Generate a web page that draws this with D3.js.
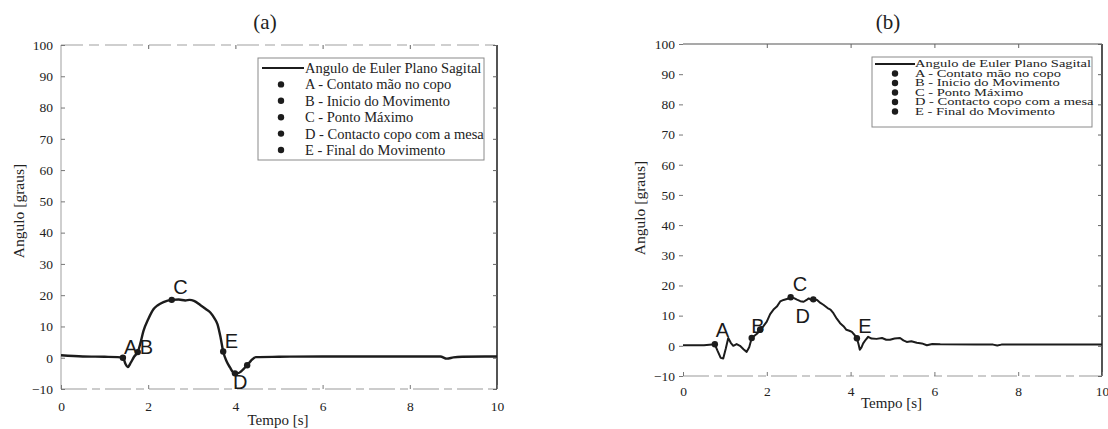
<!DOCTYPE html>
<html>
<head>
<meta charset="utf-8">
<script src="https://cdn.jsdelivr.net/npm/d3@7"></script>
<style>
  html, body { margin: 0; padding: 0; background: #fff; }
  svg { display: block; }
</style>
</head>
<body>
<svg id="chart" width="1108" height="429"></svg>
<script>
// ---- shared axis ticks and legend entries ----
const tickX = [0, 2, 4, 6, 8, 10];
const tickY = [-10, 0, 10, 20, 30, 40, 50, 60, 70, 80, 90, 100];
const lineLegend = "Angulo de Euler Plano Sagital";
const eventLegend = [
  "A - Contato mão no copo",
  "B - Inicio do Movimento",
  "C - Ponto Máximo",
  "D - Contacto copo com a mesa",
  "E - Final do Movimento"
];

// ---- panel (a): sagittal Euler angle over time ----
const timeA  = [0, 0.5, 1.0, 1.3, 1.42, 1.48, 1.53, 1.6, 1.68, 1.76, 1.82, 1.89, 2.0, 2.12, 2.22, 2.35, 2.54, 2.7, 2.85, 2.95, 3.05, 3.2, 3.32, 3.43, 3.52, 3.59, 3.66, 3.72, 3.8, 3.88, 3.95, 4.05, 4.12, 4.18, 4.27, 4.36, 4.47, 5.0, 6.0, 7.0, 8.0, 8.7, 8.85, 9.0, 9.2, 10];
const angleA = [0.8, 0.4, 0.3, 0.2, 0.0, -2.0, -3.0, -1.6, 0.4, 1.8, 4.6, 8.5, 12.3, 15.5, 16.8, 17.8, 18.5, 18.6, 18.3, 18.5, 18.2, 16.8, 15.6, 14.4, 12.6, 10.7, 6.5, 2.0, -1.2, -3.2, -4.7, -5.0, -4.5, -3.7, -2.4, -0.9, 0.2, 0.3, 0.4, 0.4, 0.4, 0.4, -0.3, 0.1, 0.3, 0.4];
const eventTimeA  = [1.42, 1.76, 2.54, 3.72, 3.99, 4.27];
const eventAngleA = [0.0, 1.8, 18.5, 2.0, -5.0, -2.4];
const tagTextA  = ["A", "B", "C", "E", "D"];
const tagTimeA  = [1.6, 1.96, 2.74, 3.91, 4.11];
const tagAngleA = [1.2, 1.2, 20.4, 3.1, -10.0];

// ---- panel (b): sagittal Euler angle over time ----
const timeB  = [0, 0.5, 0.76, 0.82, 0.9, 0.96, 1.02, 1.08, 1.14, 1.2, 1.28, 1.36, 1.45, 1.52, 1.58, 1.64, 1.72, 1.78, 1.84, 1.92, 2.0, 2.08, 2.16, 2.24, 2.32, 2.4, 2.48, 2.57, 2.65, 2.72, 2.8, 2.88, 2.95, 3.0, 3.06, 3.11, 3.2, 3.28, 3.35, 3.45, 3.52, 3.59, 3.67, 3.75, 3.83, 3.9, 3.97, 4.03, 4.1, 4.15, 4.19, 4.22, 4.26, 4.3, 4.36, 4.42, 4.5, 4.62, 4.75, 4.85, 4.94, 5.05, 5.18, 5.26, 5.34, 5.45, 5.58, 5.7, 5.82, 5.95, 6.14, 7.0, 7.4, 7.5, 7.6, 8.0, 10];
const angleB = [0.2, 0.2, 0.5, -1.5, -4.0, -4.2, -1.0, 2.6, 1.0, 0.0, 0.6, 0.0, -1.2, -2.0, -0.5, 2.6, 3.5, 4.2, 5.3, 6.5, 8.0, 10.5, 12.0, 13.0, 14.7, 15.2, 15.5, 16.1, 15.8, 15.3, 14.8, 14.6, 15.2, 15.7, 15.2, 15.4, 15.2, 14.2, 13.6, 12.5, 12.0, 10.8, 9.0, 7.5, 6.5, 5.3, 5.0, 4.6, 3.5, 2.5, 0.5, -1.3, -0.5, 0.8, 2.0, 3.0, 2.4, 2.3, 2.6, 2.0, 2.0, 2.4, 2.6, 1.8, 1.3, 1.5, 1.0, 0.8, 0.2, 0.6, 0.5, 0.4, 0.4, 0.1, 0.4, 0.4, 0.4];
const eventTimeB  = [0.76, 1.64, 1.84, 2.57, 3.11, 4.15];
const eventAngleB = [0.5, 2.6, 5.3, 16.1, 15.4, 2.5];
const tagTextB  = ["A", "B", "C", "D", "E"];
const tagTimeB  = [0.94, 1.79, 2.79, 2.86, 4.34];
const tagAngleB = [3.0, 4.3, 18.0, 7.6, 4.3];

const svg = d3.select("#chart");
const ink = "#1c1c1c";
const serif = "'Liberation Serif', 'Times New Roman', Times, serif";
const sans = "'Liberation Sans', Arial, Helvetica, sans-serif";

function drawPanel(p) {
  const x = d3.scaleLinear().domain([0, 10]).range([p.left, p.right]);
  const y = d3.scaleLinear().domain([-10, 100]).range([p.bottom, p.top]);
  const g = svg.append("g");

  // panel title
  g.append("text").attr("x", p.titleX).attr("y", 29).attr("text-anchor", "middle")
    .style("font-family", serif).style("font-size", "21px").style("fill", "#222").text(p.title);

  // frame
  const frame = [
    { x1: p.left, y1: p.top, x2: p.left, y2: p.bottom, c: p.leftColor, d: null, w: 1.1 },
    { x1: p.left, y1: p.top, x2: p.right, y2: p.top, c: p.topColor, d: p.topDash, w: 1.1 },
    { x1: p.right, y1: p.top, x2: p.right, y2: p.bottom, c: "#2a2a2a", d: null, w: 1.6 },
    { x1: p.left, y1: p.bottom, x2: p.right, y2: p.bottom, c: "#9a9a9a", d: "26 5 8 5", w: 1.1 }
  ];
  g.selectAll("line.frame").data(frame).join("line").attr("class", "frame")
    .attr("x1", d => d.x1).attr("y1", d => d.y1).attr("x2", d => d.x2).attr("y2", d => d.y2)
    .attr("stroke", d => d.c).attr("stroke-width", d => d.w)
    .attr("stroke-dasharray", d => d.d);

  const styleTicks = sel => sel.selectAll("text")
    .style("font-family", serif).style("font-size", "13.5px").style("fill", "#222");

  // left axis with labels
  const ya = g.append("g").attr("transform", `translate(${p.left},0)`)
    .call(d3.axisLeft(y).tickValues(tickY).tickSizeInner(p.yTick).tickSizeOuter(0)
      .tickPadding(p.yPad).tickFormat(d3.format("d")));
  ya.select(".domain").remove();
  ya.selectAll("line").attr("stroke", "#777");
  styleTicks(ya);

  // bottom axis with labels
  const xa = g.append("g").attr("transform", `translate(0,${p.bottom})`)
    .call(d3.axisBottom(x).tickValues(tickX).tickSizeInner(-4).tickSizeOuter(0)
      .tickPadding(p.xPad).tickFormat(d3.format("d")));
  xa.select(".domain").remove();
  xa.selectAll("line").attr("stroke", "#777");
  styleTicks(xa);

  // inward ticks on right and top edges
  const ra = g.append("g").attr("transform", `translate(${p.right},0)`)
    .call(d3.axisRight(y).tickValues(tickY).tickSizeInner(-4).tickSizeOuter(0).tickFormat(""));
  ra.select(".domain").remove();
  ra.selectAll("line").attr("stroke", "#666");
  const ta = g.append("g").attr("transform", `translate(0,${p.top})`)
    .call(d3.axisTop(x).tickValues(tickX.slice(1, -1)).tickSizeInner(-4).tickSizeOuter(0).tickFormat(""));
  ta.select(".domain").remove();
  ta.selectAll("line").attr("stroke", "#666");

  // axis titles
  g.append("text").attr("text-anchor", "middle")
    .attr("transform", `translate(${p.yLabelX},${p.yLabelY}) rotate(-90)`)
    .style("font-family", serif).style("font-size", "15.5px").style("fill", "#222")
    .text("Angulo [graus]");
  g.append("text").attr("text-anchor", "middle")
    .attr("x", (p.left + p.right) / 2 - 1).attr("y", p.xLabelY)
    .style("font-family", serif).style("font-size", "15px").style("fill", "#222")
    .text("Tempo [s]");

  // angle trace
  const pts = p.time.map((t, i) => [t, p.angle[i]]);
  g.append("path").datum(pts)
    .attr("fill", "none").attr("stroke", ink).attr("stroke-width", p.lw)
    .attr("stroke-linejoin", "round")
    .attr("d", d3.line().x(d => x(d[0])).y(d => y(d[1])).curve(p.curve));

  // event markers
  g.selectAll("circle.ev").data(p.evT).join("circle").attr("class", "ev")
    .attr("cx", d => x(d)).attr("cy", (d, i) => y(p.evV[i])).attr("r", 3.2).attr("fill", ink);

  // event letters
  g.selectAll("text.tag").data(p.tagText).join("text").attr("class", "tag")
    .attr("x", (d, i) => x(p.tagT[i])).attr("y", (d, i) => y(p.tagV[i]))
    .attr("text-anchor", "middle")
    .style("font-family", sans).style("font-size", "20px").style("fill", "#1a1a1a")
    .text(d => d);

  // legend
  const L = p.legend;
  const lg = g.append("g");
  lg.append("rect").attr("x", L.x0).attr("y", L.y0).attr("width", L.x1 - L.x0).attr("height", L.y1 - L.y0)
    .attr("fill", "#fff").attr("stroke", "#8a8a8a").attr("stroke-width", 1);
  lg.append("line").attr("x1", L.lineX0).attr("x2", L.lineX1).attr("y1", L.row0).attr("y2", L.row0)
    .attr("stroke", ink).attr("stroke-width", 2);
  const rows = [lineLegend].concat(eventLegend);
  lg.selectAll("circle").data(eventLegend).join("circle")
    .attr("cx", L.dotX).attr("cy", (d, i) => L.row0 + (i + 1) * L.step).attr("r", 3.2).attr("fill", ink);
  lg.selectAll("text").data(rows).join("text")
    .attr("transform", (d, i) => `translate(${L.textX},${L.row0 + i * L.step + L.base}) scale(1,${L.sy})`)
    .style("font-family", serif).style("font-size", "14.5px").style("fill", "#222")
    .text(d => d);
}

drawPanel({
  title: "(a)", titleX: 265,
  left: 61, right: 497, top: 45, bottom: 389,
  leftColor: "#a8a8a8", topColor: "#a0a0a0", topDash: "22 6 10 6",
  yTick: -4, yPad: 8, xPad: 12,
  yLabelX: 24, yLabelY: 211, xLabelY: 425,
  time: timeA, angle: angleA, lw: 2.4, curve: d3.curveMonotoneX,
  evT: eventTimeA, evV: eventAngleA,
  tagText: tagTextA, tagT: tagTimeA, tagV: tagAngleA,
  legend: { x0: 258, x1: 484, y0: 58, y1: 160, lineX0: 262, lineX1: 304, dotX: 281,
            textX: 305, row0: 68, step: 16.4, base: 5, sy: 1 }
});

drawPanel({
  title: "(b)", titleX: 888,
  left: 683, right: 1102, top: 44, bottom: 376,
  leftColor: "none", topColor: "#555", topDash: null,
  yTick: 4, yPad: 4, xPad: 10,
  yLabelX: 645, yLabelY: 208, xLabelY: 408,
  time: timeB, angle: angleB, lw: 2, curve: d3.curveLinear,
  evT: eventTimeB, evV: eventAngleB,
  tagText: tagTextB, tagT: tagTimeB, tagV: tagAngleB,
  legend: { x0: 872, x1: 1092, y0: 57, y1: 127, lineX0: 875, lineX1: 915, dotX: 895,
            textX: 915, row0: 64, step: 9.5, base: 3.4, sy: 0.68 }
});
</script>
</body>
</html>
